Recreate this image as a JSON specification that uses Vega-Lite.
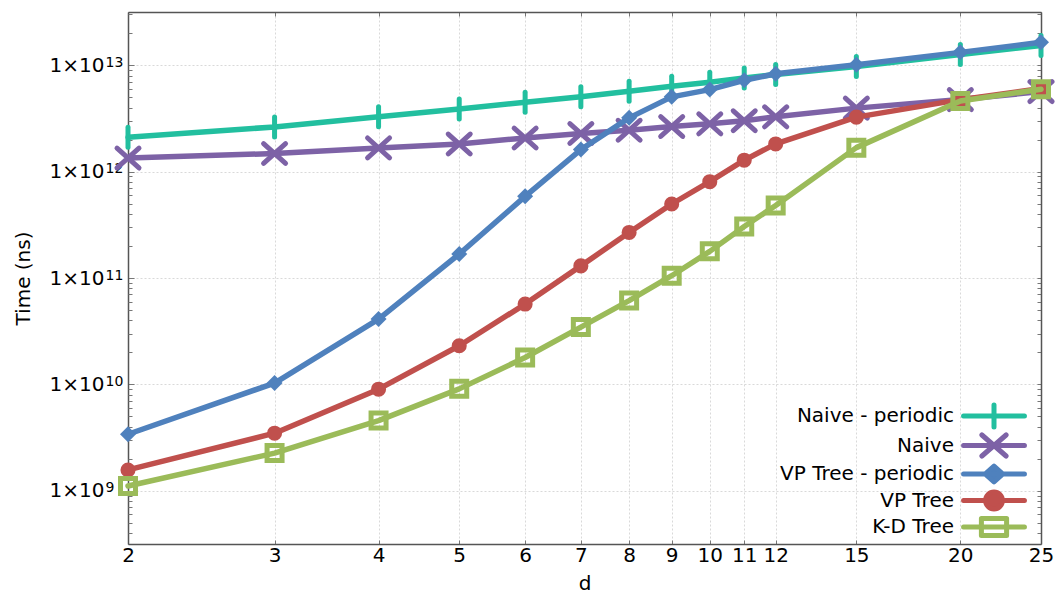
{
  "$schema": "https://vega.github.io/schema/vega-lite/v6.json",
  "autosize": {"type": "none"},
  "padding": {"left": 128, "top": 12, "right": 14, "bottom": 52},
  "width": 913,
  "height": 532,
  "background": "white",
  "config": {
    "view": {"stroke": null},
    "font": "DejaVu Sans",
    "axis": {
      "labelFont": "DejaVu Sans", "labelFontSize": 20, "labelColor": "#000",
      "titleFont": "DejaVu Sans", "titleFontSize": 20, "titleFontWeight": "normal", "titleColor": "#000",
      "domainColor": "#555", "domainWidth": 1.5, "tickColor": "#777", "tickWidth": 1,
      "gridColor": "#d9d9d9", "gridDash": [2, 2], "gridWidth": 1
    }
  },
  "data": {"values": [
    {"d": 2, "series": "Naive - periodic", "t": 2.10e12},
    {"d": 3, "series": "Naive - periodic", "t": 2.63e12},
    {"d": 4, "series": "Naive - periodic", "t": 3.27e12},
    {"d": 5, "series": "Naive - periodic", "t": 3.88e12},
    {"d": 6, "series": "Naive - periodic", "t": 4.48e12},
    {"d": 7, "series": "Naive - periodic", "t": 5.04e12},
    {"d": 8, "series": "Naive - periodic", "t": 5.69e12},
    {"d": 9, "series": "Naive - periodic", "t": 6.34e12},
    {"d": 10, "series": "Naive - periodic", "t": 6.92e12},
    {"d": 11, "series": "Naive - periodic", "t": 7.60e12},
    {"d": 12, "series": "Naive - periodic", "t": 8.17e12},
    {"d": 15, "series": "Naive - periodic", "t": 9.71e12},
    {"d": 20, "series": "Naive - periodic", "t": 1.26e13},
    {"d": 25, "series": "Naive - periodic", "t": 1.53e13},
    {"d": 2, "series": "Naive", "t": 1.34e12},
    {"d": 3, "series": "Naive", "t": 1.48e12},
    {"d": 4, "series": "Naive", "t": 1.67e12},
    {"d": 5, "series": "Naive", "t": 1.82e12},
    {"d": 6, "series": "Naive", "t": 2.07e12},
    {"d": 7, "series": "Naive", "t": 2.28e12},
    {"d": 8, "series": "Naive", "t": 2.45e12},
    {"d": 9, "series": "Naive", "t": 2.65e12},
    {"d": 10, "series": "Naive", "t": 2.81e12},
    {"d": 11, "series": "Naive", "t": 3.01e12},
    {"d": 12, "series": "Naive", "t": 3.27e12},
    {"d": 15, "series": "Naive", "t": 3.95e12},
    {"d": 20, "series": "Naive", "t": 4.75e12},
    {"d": 25, "series": "Naive", "t": 5.65e12},
    {"d": 2, "series": "VP Tree - periodic", "t": 3.40e9},
    {"d": 3, "series": "VP Tree - periodic", "t": 1.03e10},
    {"d": 4, "series": "VP Tree - periodic", "t": 4.11e10},
    {"d": 5, "series": "VP Tree - periodic", "t": 1.68e11},
    {"d": 6, "series": "VP Tree - periodic", "t": 5.85e11},
    {"d": 7, "series": "VP Tree - periodic", "t": 1.61e12},
    {"d": 8, "series": "VP Tree - periodic", "t": 3.20e12},
    {"d": 9, "series": "VP Tree - periodic", "t": 5.04e12},
    {"d": 10, "series": "VP Tree - periodic", "t": 5.90e12},
    {"d": 11, "series": "VP Tree - periodic", "t": 7.22e12},
    {"d": 12, "series": "VP Tree - periodic", "t": 8.30e12},
    {"d": 15, "series": "VP Tree - periodic", "t": 1.01e13},
    {"d": 20, "series": "VP Tree - periodic", "t": 1.32e13},
    {"d": 25, "series": "VP Tree - periodic", "t": 1.64e13},
    {"d": 2, "series": "VP Tree", "t": 1.57e9},
    {"d": 3, "series": "VP Tree", "t": 3.48e9},
    {"d": 4, "series": "VP Tree", "t": 9.02e9},
    {"d": 5, "series": "VP Tree", "t": 2.31e10},
    {"d": 6, "series": "VP Tree", "t": 5.69e10},
    {"d": 7, "series": "VP Tree", "t": 1.30e11},
    {"d": 8, "series": "VP Tree", "t": 2.68e11},
    {"d": 9, "series": "VP Tree", "t": 4.96e11},
    {"d": 10, "series": "VP Tree", "t": 8.04e11},
    {"d": 11, "series": "VP Tree", "t": 1.28e12},
    {"d": 12, "series": "VP Tree", "t": 1.82e12},
    {"d": 15, "series": "VP Tree", "t": 3.25e12},
    {"d": 20, "series": "VP Tree", "t": 4.75e12},
    {"d": 25, "series": "VP Tree", "t": 6.03e12},
    {"d": 2, "series": "K-D Tree", "t": 1.11e9},
    {"d": 3, "series": "K-D Tree", "t": 2.26e9},
    {"d": 4, "series": "K-D Tree", "t": 4.57e9},
    {"d": 5, "series": "K-D Tree", "t": 9.08e9},
    {"d": 6, "series": "K-D Tree", "t": 1.79e10},
    {"d": 7, "series": "K-D Tree", "t": 3.46e10},
    {"d": 8, "series": "K-D Tree", "t": 6.14e10},
    {"d": 9, "series": "K-D Tree", "t": 1.05e11},
    {"d": 10, "series": "K-D Tree", "t": 1.78e11},
    {"d": 11, "series": "K-D Tree", "t": 3.05e11},
    {"d": 12, "series": "K-D Tree", "t": 4.81e11},
    {"d": 15, "series": "K-D Tree", "t": 1.68e12},
    {"d": 20, "series": "K-D Tree", "t": 4.60e12},
    {"d": 25, "series": "K-D Tree", "t": 5.95e12}
  ]},
  "encoding": {
    "x": {"field": "d", "type": "quantitative", "scale": {"type": "log", "domain": [2, 25], "nice": false}, "axis": null},
    "y": {"field": "t", "type": "quantitative", "scale": {"type": "log", "domain": [316227766, 31622776601683], "nice": false}, "axis": null},
    "color": {
      "field": "series", "type": "nominal",
      "scale": {
        "domain": ["Naive - periodic", "Naive", "VP Tree - periodic", "VP Tree", "K-D Tree"],
        "range": ["#22bf9f", "#7d62a6", "#4f81bd", "#c0504d", "#9bbb59"]
      },
      "legend": {
        "orient": "none", "legendX": 853, "legendY": 391, "title": null, "padding": 0,
        "labelFont": "DejaVu Sans", "labelFontSize": 20, "labelColor": "#000", "labelLimit": 400,
        "symbolSize": 441, "symbolStrokeWidth": 5, "rowPadding": 2.5,
        "encode": {
          "symbols": {"update": {
            "shape": {"signal": "datum.value === 'Naive - periodic' ? 'M-2.9,0L2.9,0M0,-1.05L0,1.05' : datum.value === 'Naive' ? 'M-2.9,0L2.9,0M-1.15,-1L1.15,1M-1.15,1L1.15,-1' : datum.value === 'VP Tree - periodic' ? 'M-2.9,0L2.9,0M-0.85,0L0,-0.75L0.85,0L0,0.75Z' : datum.value === 'VP Tree' ? 'M-2.9,0L2.9,0M0.8,0A0.8,0.8,0,1,1,-0.8,0A0.8,0.8,0,1,1,0.8,0Z' : 'M-2.9,0L2.9,0M-1.2,-0.8L1.2,-0.8M1.2,-0.8L1.2,0.8M1.2,0.8L-1.2,0.8M-1.2,0.8L-1.2,-0.8'"},
            "fill": {"signal": "datum.value === 'VP Tree - periodic' || datum.value === 'VP Tree' ? scale('color', datum.value) : 'transparent'"},
            "stroke": {"scale": "color", "field": "value"},
            "strokeWidth": {"value": 5},
            "size": {"value": 441},
            "opacity": {"value": 1},
            "strokeCap": {"value": "round"},
            "strokeJoin": {"value": "round"}
          }},
          "labels": {"update": {"x": {"value": -27}, "align": {"value": "right"}}}
        }
      }
    }
  },
  "resolve": {"axis": {"x": "independent", "y": "independent"}},
  "layer": [
    {
      "transform": [{"filter": "datum.series === 'Naive - periodic'"}],
      "mark": {"type": "line", "strokeWidth": 5.5, "strokeJoin": "round", "strokeCap": "round"},
      "encoding": {
        "x": {"field": "d", "type": "quantitative", "scale": {"type": "log", "domain": [2, 25], "nice": false},
          "axis": {"orient": "bottom", "values": [2, 3, 4, 5, 6, 7, 8, 9, 10, 11, 12, 15, 20, 25], "format": "d", "title": "d",
            "labelFlush": false, "labelOverlap": false, "grid": true, "tickSize": -4, "labelPadding": 5, "titlePadding": 8}},
        "y": {"field": "t", "type": "quantitative", "scale": {"type": "log", "domain": [316227766, 31622776601683], "nice": false},
          "axis": {"orient": "left", "title": "Time (ns)", "labelOverlap": false, "labelFlush": false,
            "values": [1000000000, 10000000000, 100000000000, 1000000000000, 10000000000000],
            "labelExpr": "'1×10'",
            "grid": true, "tickSize": -6, "labelPadding": 30, "titlePadding": 16}}
      }
    },
    {
      "transform": [{"filter": "datum.series === 'Naive - periodic'"}],
      "mark": {"type": "point", "shape": "M0,-1L0,1", "size": 400, "filled": false, "strokeWidth": 5, "opacity": 1, "strokeCap": "round"},
      "encoding": {
        "x": {"field": "d", "type": "quantitative", "scale": {"type": "log", "domain": [2, 25], "nice": false},
          "axis": {"orient": "top", "values": [2, 3, 4, 5, 6, 7, 8, 9, 10, 11, 12, 15, 20, 25], "labels": false, "title": null, "grid": false, "tickSize": -4}},
        "y": {"field": "t", "type": "quantitative", "scale": {"type": "log", "domain": [316227766, 31622776601683], "nice": false},
          "axis": {"orient": "right", "labels": false, "title": null, "grid": false, "tickSize": -4,
            "values": [400000000, 500000000, 600000000, 700000000, 800000000, 900000000,
              1000000000, 2000000000, 3000000000, 4000000000, 5000000000, 6000000000, 7000000000, 8000000000, 9000000000,
              10000000000, 20000000000, 30000000000, 40000000000, 50000000000, 60000000000, 70000000000, 80000000000, 90000000000,
              100000000000, 200000000000, 300000000000, 400000000000, 500000000000, 600000000000, 700000000000, 800000000000, 900000000000,
              1000000000000, 2000000000000, 3000000000000, 4000000000000, 5000000000000, 6000000000000, 7000000000000, 8000000000000, 9000000000000,
              10000000000000, 20000000000000, 30000000000000]}}
      }
    },
    {
      "transform": [{"filter": "datum.series === 'Naive'"}],
      "mark": {"type": "line", "strokeWidth": 5.5, "strokeJoin": "round", "strokeCap": "round"},
      "encoding": {
        "y": {"field": "t", "type": "quantitative", "scale": {"type": "log", "domain": [316227766, 31622776601683], "nice": false},
          "axis": {"orient": "left", "labels": false, "title": null, "grid": false, "domain": false, "tickSize": -4,
            "values": [400000000, 500000000, 600000000, 700000000, 800000000, 900000000,
              2000000000, 3000000000, 4000000000, 5000000000, 6000000000, 7000000000, 8000000000, 9000000000,
              20000000000, 30000000000, 40000000000, 50000000000, 60000000000, 70000000000, 80000000000, 90000000000,
              200000000000, 300000000000, 400000000000, 500000000000, 600000000000, 700000000000, 800000000000, 900000000000,
              2000000000000, 3000000000000, 4000000000000, 5000000000000, 6000000000000, 7000000000000, 8000000000000, 9000000000000,
              20000000000000, 30000000000000]}}
      }
    },
    {
      "transform": [{"filter": "datum.series === 'Naive'"}],
      "mark": {"type": "point", "shape": "M-1,-0.9L1,0.9M-1,0.9L1,-0.9", "size": 484, "filled": false, "strokeWidth": 5, "opacity": 1, "strokeCap": "round"},
      "encoding": {
        "y": {"field": "t", "type": "quantitative", "scale": {"type": "log", "domain": [316227766, 31622776601683], "nice": false},
          "axis": {"orient": "left", "title": null, "grid": false, "domain": false, "ticks": false,
            "labelOverlap": false, "labelFlush": false, "labelFontSize": 14, "labelPadding": 23, "labelOffset": -3, "labelAlign": "left",
            "values": [1000000000, 10000000000, 100000000000, 1000000000000, 10000000000000],
            "labelExpr": "format(round(log(datum.value) / LN10), 'd')"}}
      }
    },
    {
      "transform": [{"filter": "datum.series === 'VP Tree - periodic'"}],
      "mark": {"type": "line", "strokeWidth": 5.5, "strokeJoin": "round", "strokeCap": "round"}
    },
    {
      "transform": [{"filter": "datum.series === 'VP Tree - periodic'"}],
      "mark": {"type": "point", "shape": "diamond", "size": 256, "filled": true, "opacity": 1}
    },
    {
      "transform": [{"filter": "datum.series === 'VP Tree'"}],
      "mark": {"type": "line", "strokeWidth": 5.5, "strokeJoin": "round", "strokeCap": "round"}
    },
    {
      "transform": [{"filter": "datum.series === 'VP Tree'"}],
      "mark": {"type": "point", "shape": "circle", "size": 227, "filled": true, "opacity": 1}
    },
    {
      "transform": [{"filter": "datum.series === 'K-D Tree'"}],
      "mark": {"type": "line", "strokeWidth": 5.5, "strokeJoin": "round", "strokeCap": "round"}
    },
    {
      "transform": [{"filter": "datum.series === 'K-D Tree'"}],
      "mark": {"type": "point", "shape": "square", "size": 225, "filled": false, "strokeWidth": 5, "opacity": 1}
    }
  ]
}
